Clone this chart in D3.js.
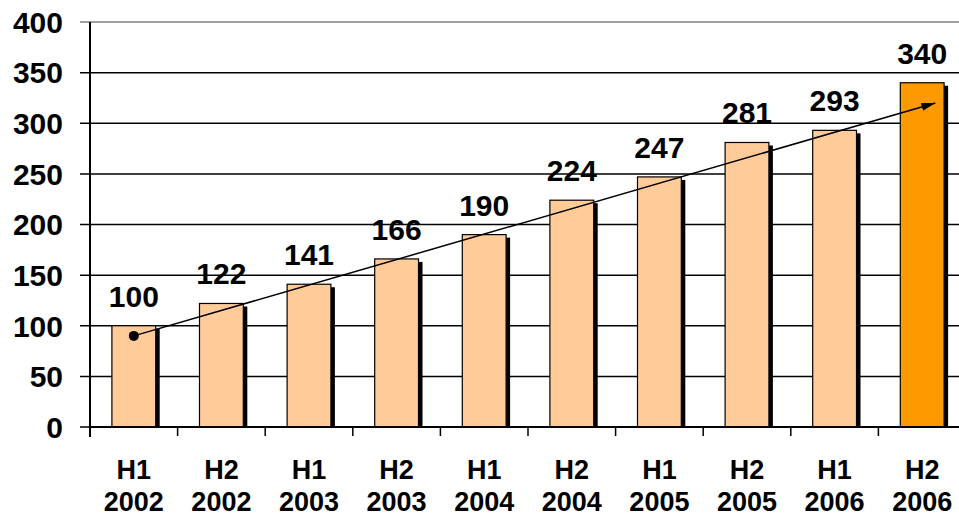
<!DOCTYPE html>
<html>
<head>
<meta charset="utf-8">
<script src="https://cdn.jsdelivr.net/npm/d3@7"></script>
<style>
  body { margin: 0; background: #fff; }
  svg { display: block; font-family: "Liberation Sans", Arial, sans-serif; }
</style>
</head>
<body>
<svg id="chart" width="959" height="517"></svg>
<script>
// chart data
const halves = ["H1", "H2", "H1", "H2", "H1", "H2", "H1", "H2", "H1", "H2"];
const years = ["2002", "2002", "2003", "2003", "2004", "2004", "2005", "2005", "2006", "2006"];
const values = [100, 122, 141, 166, 190, 224, 247, 281, 293, 340];
const yTicks = [0, 50, 100, 150, 200, 250, 300, 350, 400];
// trend arrow (category index, value)
const trendIdx = [0, 9.15];
const trendVal = [90, 320];

let svg = d3.select("#chart"),
  plotLeft = 90,
  plotRight = 966,
  plotTop = 22,
  plotBottom = 427;

let labels = halves.map((h, i) => h + " " + years[i]);

let x = d3.scaleBand().domain(labels).range([plotLeft, plotRight])
  .paddingInner(0.5).paddingOuter(0.25);
let y = d3.scaleLinear().domain([0, 400]).range([plotBottom, plotTop]);
let step = x.step();

// gridlines
svg.append("g")
  .selectAll("line")
  .data(yTicks)
  .enter()
  .append("line")
  .attr("x1", plotLeft - 10)
  .attr("x2", plotRight)
  .attr("y1", (d) => y(d))
  .attr("y2", (d) => y(d))
  .attr("stroke", (d) => (d === 400 ? "#808080" : "#000"))
  .attr("stroke-width", 1.5);

// y tick labels
svg.append("g")
  .selectAll("text")
  .data(yTicks)
  .enter()
  .append("text")
  .attr("x", 63)
  .attr("y", (d) => y(d))
  .attr("dy", "0.36em")
  .attr("text-anchor", "end")
  .attr("font-size", "30px")
  .attr("font-weight", "bold")
  .text((d) => d);

// bar shadows
svg.append("g")
  .selectAll("rect")
  .data(values)
  .enter()
  .append("rect")
  .attr("x", (d, i) => x(labels[i]) + x.bandwidth())
  .attr("y", (d) => y(d) + 3)
  .attr("width", 4)
  .attr("height", (d) => plotBottom - y(d) - 3)
  .attr("fill", "#000");

// bars
svg.append("g")
  .selectAll("rect")
  .data(values)
  .enter()
  .append("rect")
  .attr("x", (d, i) => x(labels[i]))
  .attr("y", (d) => y(d))
  .attr("width", x.bandwidth())
  .attr("height", (d) => plotBottom - y(d))
  .attr("fill", (d, i) => (i === values.length - 1 ? "#FF9900" : "#FFCC99"))
  .attr("stroke", "#000")
  .attr("stroke-width", 1.2);

// value labels
svg.append("g")
  .selectAll("text")
  .data(values)
  .enter()
  .append("text")
  .attr("x", (d, i) => x(labels[i]) + x.bandwidth() / 2)
  .attr("y", (d) => y(d) - 19)
  .attr("text-anchor", "middle")
  .attr("font-size", "30px")
  .attr("font-weight", "bold")
  .text((d) => d);

// axes
svg.append("line")
  .attr("x1", plotLeft).attr("x2", plotLeft)
  .attr("y1", plotTop).attr("y2", plotBottom + 10)
  .attr("stroke", "#000").attr("stroke-width", 2);
svg.append("line")
  .attr("x1", plotLeft).attr("x2", plotRight)
  .attr("y1", plotBottom).attr("y2", plotBottom)
  .attr("stroke", "#000").attr("stroke-width", 2);
svg.append("g")
  .selectAll("line")
  .data(d3.range(1, labels.length))
  .enter()
  .append("line")
  .attr("x1", (d) => plotLeft + d * step)
  .attr("x2", (d) => plotLeft + d * step)
  .attr("y1", plotBottom)
  .attr("y2", plotBottom + 9)
  .attr("stroke", "#000")
  .attr("stroke-width", 1.5);

// x labels
let xl = svg.append("g")
  .selectAll("text")
  .data(labels)
  .enter()
  .append("text")
  .attr("text-anchor", "middle")
  .attr("font-size", "27px")
  .attr("font-weight", "bold");
xl.append("tspan")
  .attr("x", (d) => x(d) + x.bandwidth() / 2)
  .attr("y", 479)
  .text((d, i) => halves[i]);
xl.append("tspan")
  .attr("x", (d) => x(d) + x.bandwidth() / 2)
  .attr("y", 511)
  .text((d, i) => years[i]);

// trend arrow
svg.append("defs")
  .append("marker")
  .attr("id", "arrow")
  .attr("viewBox", "0 0 14 10")
  .attr("refX", 14)
  .attr("refY", 5)
  .attr("markerWidth", 14)
  .attr("markerHeight", 10)
  .attr("markerUnits", "userSpaceOnUse")
  .attr("orient", "auto")
  .append("path")
  .attr("d", "M0,1 L14,5 L0,9 Z")
  .attr("fill", "#000");

let tx = (i) => plotLeft + step * (i + 0.5);
svg.append("line")
  .attr("x1", tx(trendIdx[0]))
  .attr("y1", y(trendVal[0]))
  .attr("x2", tx(trendIdx[1]))
  .attr("y2", y(trendVal[1]))
  .attr("stroke", "#000")
  .attr("stroke-width", 1.5)
  .attr("marker-end", "url(#arrow)");
svg.append("circle")
  .attr("cx", tx(trendIdx[0]))
  .attr("cy", y(trendVal[0]))
  .attr("r", 5)
  .attr("fill", "#000");
</script>
</body>
</html>
